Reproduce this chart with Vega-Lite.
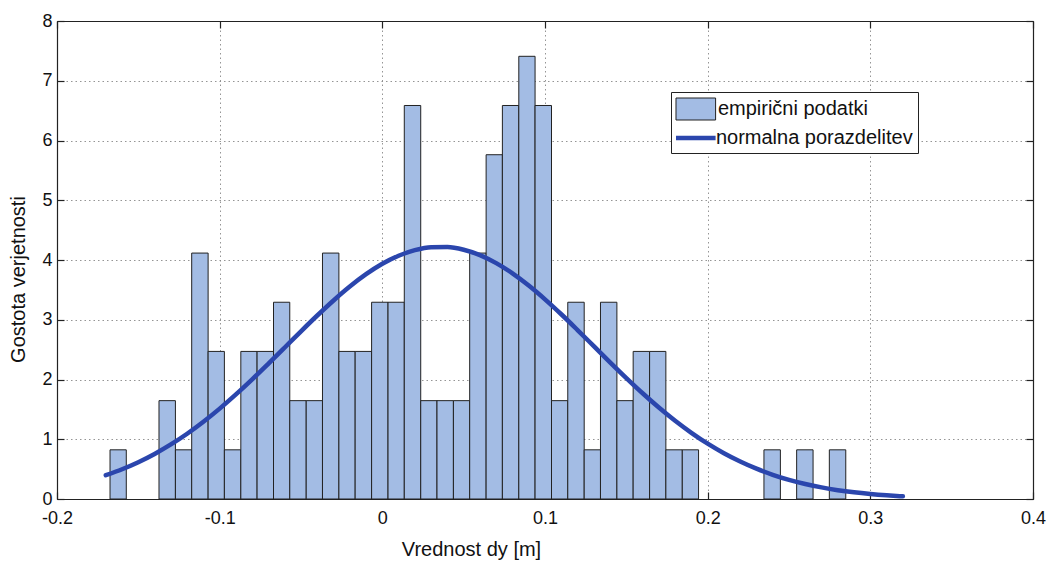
{
  "$schema": "https://vega.github.io/schema/vega-lite/v6.json",
  "width": 976,
  "height": 478,
  "autosize": {"type": "none"},
  "padding": {"left": 57, "top": 21, "right": 26, "bottom": 63},
  "background": "white",
  "config": {
    "font": "Liberation Sans",
    "view": {"stroke": null},
    "axis": {
      "labelFont": "Liberation Sans",
      "labelFontSize": 18,
      "labelColor": "#111111",
      "labelFlush": false,
      "labelExpr": "replace(format(datum.value, '~g'), '\u2212', '-')",
      "titleFont": "Liberation Sans",
      "titleFontSize": 20,
      "titleFontWeight": "normal",
      "titleColor": "#111111",
      "domainColor": "#222222",
      "domainWidth": 1.2,
      "tickColor": "#222222",
      "tickWidth": 1.2,
      "tickSize": -7,
      "gridColor": "#8a8a8a",
      "gridDash": [1.5, 3],
      "gridWidth": 1,
      "gridOpacity": 0.9
    },
    "legend": {
      "orient": "none",
      "padding": 5,
      "labelFont": "Liberation Sans",
      "labelFontSize": 20,
      "labelColor": "#111111",
      "labelLimit": 400,
      "symbolSize": 484,
      "symbolOpacity": 1
    }
  },
  "datasets": {
    "bins": [
      {"x0": -0.1674, "x1": -0.1574, "count": 1, "density": 0.823, "series": "empirični podatki"},
      {"x0": -0.1373, "x1": -0.1272, "count": 2, "density": 1.646, "series": "empirični podatki"},
      {"x0": -0.1272, "x1": -0.1172, "count": 1, "density": 0.823, "series": "empirični podatki"},
      {"x0": -0.1172, "x1": -0.1071, "count": 5, "density": 4.116, "series": "empirični podatki"},
      {"x0": -0.1071, "x1": -0.0971, "count": 3, "density": 2.470, "series": "empirični podatki"},
      {"x0": -0.0971, "x1": -0.0870, "count": 1, "density": 0.823, "series": "empirični podatki"},
      {"x0": -0.0870, "x1": -0.0770, "count": 3, "density": 2.470, "series": "empirični podatki"},
      {"x0": -0.0770, "x1": -0.0669, "count": 3, "density": 2.470, "series": "empirični podatki"},
      {"x0": -0.0669, "x1": -0.0569, "count": 4, "density": 3.293, "series": "empirični podatki"},
      {"x0": -0.0569, "x1": -0.0468, "count": 2, "density": 1.646, "series": "empirični podatki"},
      {"x0": -0.0468, "x1": -0.0368, "count": 2, "density": 1.646, "series": "empirični podatki"},
      {"x0": -0.0368, "x1": -0.0267, "count": 5, "density": 4.116, "series": "empirični podatki"},
      {"x0": -0.0267, "x1": -0.0167, "count": 3, "density": 2.470, "series": "empirični podatki"},
      {"x0": -0.0167, "x1": -0.0066, "count": 3, "density": 2.470, "series": "empirični podatki"},
      {"x0": -0.0066, "x1": 0.0035, "count": 4, "density": 3.293, "series": "empirični podatki"},
      {"x0": 0.0035, "x1": 0.0135, "count": 4, "density": 3.293, "series": "empirični podatki"},
      {"x0": 0.0135, "x1": 0.0236, "count": 8, "density": 6.586, "series": "empirični podatki"},
      {"x0": 0.0236, "x1": 0.0336, "count": 2, "density": 1.646, "series": "empirični podatki"},
      {"x0": 0.0336, "x1": 0.0437, "count": 2, "density": 1.646, "series": "empirični podatki"},
      {"x0": 0.0437, "x1": 0.0537, "count": 2, "density": 1.646, "series": "empirični podatki"},
      {"x0": 0.0537, "x1": 0.0638, "count": 5, "density": 4.116, "series": "empirični podatki"},
      {"x0": 0.0638, "x1": 0.0738, "count": 7, "density": 5.762, "series": "empirični podatki"},
      {"x0": 0.0738, "x1": 0.0839, "count": 8, "density": 6.586, "series": "empirični podatki"},
      {"x0": 0.0839, "x1": 0.0939, "count": 9, "density": 7.409, "series": "empirični podatki"},
      {"x0": 0.0939, "x1": 0.1040, "count": 8, "density": 6.586, "series": "empirični podatki"},
      {"x0": 0.1040, "x1": 0.1140, "count": 2, "density": 1.646, "series": "empirični podatki"},
      {"x0": 0.1140, "x1": 0.1241, "count": 4, "density": 3.293, "series": "empirični podatki"},
      {"x0": 0.1241, "x1": 0.1341, "count": 1, "density": 0.823, "series": "empirični podatki"},
      {"x0": 0.1341, "x1": 0.1442, "count": 4, "density": 3.293, "series": "empirični podatki"},
      {"x0": 0.1442, "x1": 0.1542, "count": 2, "density": 1.646, "series": "empirični podatki"},
      {"x0": 0.1542, "x1": 0.1643, "count": 3, "density": 2.470, "series": "empirični podatki"},
      {"x0": 0.1643, "x1": 0.1743, "count": 3, "density": 2.470, "series": "empirični podatki"},
      {"x0": 0.1743, "x1": 0.1844, "count": 1, "density": 0.823, "series": "empirični podatki"},
      {"x0": 0.1844, "x1": 0.1944, "count": 1, "density": 0.823, "series": "empirični podatki"},
      {"x0": 0.2346, "x1": 0.2447, "count": 1, "density": 0.823, "series": "empirični podatki"},
      {"x0": 0.2547, "x1": 0.2648, "count": 1, "density": 0.823, "series": "empirični podatki"},
      {"x0": 0.2748, "x1": 0.2849, "count": 1, "density": 0.823, "series": "empirični podatki"}
    ],
    "curve": [
      {"x": -0.17, "pdf": 0.398, "series": "normalna porazdelitev"},
      {"x": -0.16, "pdf": 0.498, "series": "normalna porazdelitev"},
      {"x": -0.15, "pdf": 0.616, "series": "normalna porazdelitev"},
      {"x": -0.14, "pdf": 0.754, "series": "normalna porazdelitev"},
      {"x": -0.13, "pdf": 0.913, "series": "normalna porazdelitev"},
      {"x": -0.12, "pdf": 1.092, "series": "normalna porazdelitev"},
      {"x": -0.11, "pdf": 1.293, "series": "normalna porazdelitev"},
      {"x": -0.10, "pdf": 1.513, "series": "normalna porazdelitev"},
      {"x": -0.09, "pdf": 1.751, "series": "normalna porazdelitev"},
      {"x": -0.08, "pdf": 2.003, "series": "normalna porazdelitev"},
      {"x": -0.07, "pdf": 2.267, "series": "normalna porazdelitev"},
      {"x": -0.06, "pdf": 2.536, "series": "normalna porazdelitev"},
      {"x": -0.05, "pdf": 2.807, "series": "normalna porazdelitev"},
      {"x": -0.04, "pdf": 3.071, "series": "normalna porazdelitev"},
      {"x": -0.03, "pdf": 3.323, "series": "normalna porazdelitev"},
      {"x": -0.02, "pdf": 3.556, "series": "normalna porazdelitev"},
      {"x": -0.01, "pdf": 3.762, "series": "normalna porazdelitev"},
      {"x": 0.00, "pdf": 3.936, "series": "normalna porazdelitev"},
      {"x": 0.01, "pdf": 4.072, "series": "normalna porazdelitev"},
      {"x": 0.02, "pdf": 4.166, "series": "normalna porazdelitev"},
      {"x": 0.03, "pdf": 4.215, "series": "normalna porazdelitev"},
      {"x": 0.04, "pdf": 4.217, "series": "normalna porazdelitev"},
      {"x": 0.05, "pdf": 4.172, "series": "normalna porazdelitev"},
      {"x": 0.06, "pdf": 4.081, "series": "normalna porazdelitev"},
      {"x": 0.07, "pdf": 3.948, "series": "normalna porazdelitev"},
      {"x": 0.08, "pdf": 3.777, "series": "normalna porazdelitev"},
      {"x": 0.09, "pdf": 3.573, "series": "normalna porazdelitev"},
      {"x": 0.10, "pdf": 3.342, "series": "normalna porazdelitev"},
      {"x": 0.11, "pdf": 3.092, "series": "normalna porazdelitev"},
      {"x": 0.12, "pdf": 2.828, "series": "normalna porazdelitev"},
      {"x": 0.13, "pdf": 2.558, "series": "normalna porazdelitev"},
      {"x": 0.14, "pdf": 2.288, "series": "normalna porazdelitev"},
      {"x": 0.15, "pdf": 2.024, "series": "normalna porazdelitev"},
      {"x": 0.16, "pdf": 1.770, "series": "normalna porazdelitev"},
      {"x": 0.17, "pdf": 1.531, "series": "normalna porazdelitev"},
      {"x": 0.18, "pdf": 1.309, "series": "normalna porazdelitev"},
      {"x": 0.19, "pdf": 1.108, "series": "normalna porazdelitev"},
      {"x": 0.20, "pdf": 0.926, "series": "normalna porazdelitev"},
      {"x": 0.21, "pdf": 0.766, "series": "normalna porazdelitev"},
      {"x": 0.22, "pdf": 0.627, "series": "normalna porazdelitev"},
      {"x": 0.23, "pdf": 0.507, "series": "normalna porazdelitev"},
      {"x": 0.24, "pdf": 0.405, "series": "normalna porazdelitev"},
      {"x": 0.25, "pdf": 0.320, "series": "normalna porazdelitev"},
      {"x": 0.26, "pdf": 0.251, "series": "normalna porazdelitev"},
      {"x": 0.27, "pdf": 0.194, "series": "normalna porazdelitev"},
      {"x": 0.28, "pdf": 0.148, "series": "normalna porazdelitev"},
      {"x": 0.29, "pdf": 0.112, "series": "normalna porazdelitev"},
      {"x": 0.30, "pdf": 0.084, "series": "normalna porazdelitev"},
      {"x": 0.31, "pdf": 0.062, "series": "normalna porazdelitev"},
      {"x": 0.32, "pdf": 0.045, "series": "normalna porazdelitev"}
    ]
  },
  "layer": [
    {
      "data": {"name": "bins"},
      "mark": {"type": "bar", "stroke": "#222222", "strokeWidth": 1, "fillOpacity": 1, "opacity": 1},
      "encoding": {
        "x": {
          "field": "x0",
          "type": "quantitative",
          "scale": {"domain": [-0.2, 0.4], "nice": false, "zero": false},
          "axis": {
            "values": [-0.2, -0.1, 0, 0.1, 0.2, 0.3, 0.4],
            "grid": true,
            "title": "Vrednost dy [m]",
            "labelPadding": 17,
            "titleX": 414,
            "titleY": 56,
            "titleBaseline": "alphabetic",
            "titleAlign": "center",
            "orient": "bottom"
          }
        },
        "x2": {"field": "x1"},
        "y": {
          "field": "density",
          "type": "quantitative",
          "scale": {"domain": [0, 8], "nice": false, "zero": true},
          "axis": {
            "values": [0, 1, 2, 3, 4, 5, 6, 7, 8],
            "grid": true,
            "title": "Gostota verjetnosti",
            "labelPadding": 12,
            "titleX": -33,
            "titleY": 258,
            "titleAngle": -90,
            "titleBaseline": "alphabetic",
            "titleAlign": "center",
            "orient": "left"
          }
        },
        "y2": {"datum": 0},
        "fill": {
          "field": "series",
          "type": "nominal",
          "scale": {"domain": ["empirični podatki"], "range": ["#a3bce4"]},
          "legend": {
            "title": null,
            "zindex": 3,
            "legendX": 614,
            "legendY": 71.5,
            "symbolType": "M-1.8,-1H1.8V1H-1.8Z",
            "symbolOffset": 8.3,
            "labelOffset": 10.6,
            "symbolStrokeColor": "#222222",
            "symbolStrokeWidth": 1,
            "symbolFillColor": "#a3bce4"
          }
        }
      }
    },
    {
      "data": {"name": "curve"},
      "mark": {"type": "line", "strokeWidth": 4.5, "interpolate": "monotone", "strokeCap": "round"},
      "encoding": {
        "x": {
          "field": "x",
          "type": "quantitative",
          "axis": {"orient": "top", "values": [-0.2, -0.1, 0, 0.1, 0.2, 0.3, 0.4], "labels": false, "grid": false, "title": null}
        },
        "y": {
          "field": "pdf",
          "type": "quantitative",
          "axis": {"orient": "right", "values": [0, 1, 2, 3, 4, 5, 6, 7, 8], "labels": false, "grid": false, "title": null}
        },
        "stroke": {
          "field": "series",
          "type": "nominal",
          "scale": {"domain": ["normalna porazdelitev"], "range": ["#2b46ad"]},
          "legend": {
            "title": "\u00a0",
            "zindex": 2,
            "titleFontSize": 20,
            "titlePadding": 7.5,
            "legendX": 614,
            "legendY": 71,
            "strokeColor": "#222222",
            "fillColor": "white",
            "symbolType": "M-1.8,0H1.8",
            "symbolOffset": 6.3,
            "labelOffset": 6.6,
            "symbolStrokeWidth": 4.5,
            "symbolStrokeColor": "#2b46ad"
          }
        }
      }
    }
  ],
  "resolve": {"axis": {"x": "independent", "y": "independent"}}
}
